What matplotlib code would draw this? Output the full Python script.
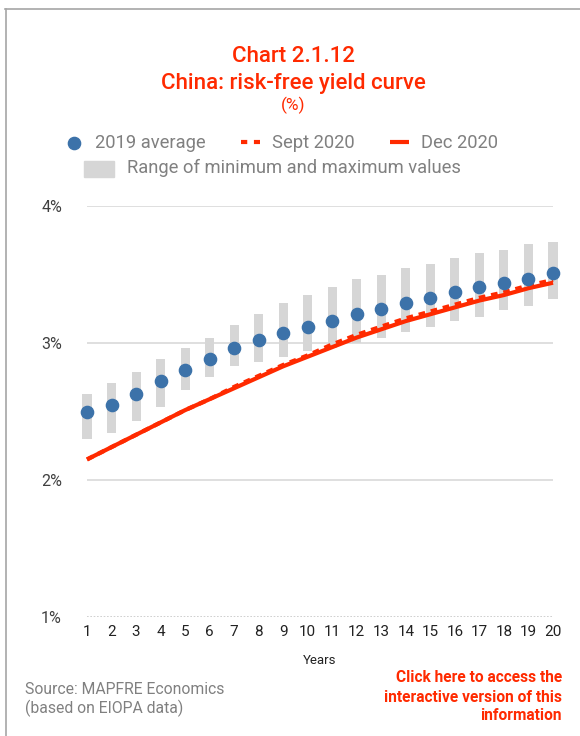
import matplotlib
matplotlib.use("Agg")
import matplotlib.pyplot as plt
from matplotlib.lines import Line2D
from matplotlib.patches import Rectangle

plt.rcParams['font.family'] = ['Roboto', 'DejaVu Sans']

years = list(range(1, 21))
avg_2019 = [2.50, 2.55, 2.63, 2.72, 2.80, 2.88, 2.96, 3.02, 3.07, 3.12,
            3.16, 3.21, 3.25, 3.29, 3.33, 3.37, 3.41, 3.44, 3.47, 3.51]
range_min = [2.30, 2.34, 2.43, 2.53, 2.66, 2.75, 2.83, 2.86, 2.90, 2.94,
             2.96, 3.00, 3.04, 3.08, 3.12, 3.16, 3.19, 3.24, 3.27, 3.32]
range_max = [2.63, 2.71, 2.79, 2.88, 2.96, 3.04, 3.13, 3.21, 3.29, 3.35,
             3.41, 3.47, 3.50, 3.55, 3.58, 3.62, 3.66, 3.68, 3.72, 3.74]
sept_2020 = [2.15, 2.24, 2.33, 2.42, 2.51, 2.59, 2.68, 2.76, 2.84, 2.91,
             2.99, 3.06, 3.12, 3.18, 3.23, 3.28, 3.33, 3.37, 3.42, 3.46]
dec_2020 = [2.15, 2.24, 2.33, 2.42, 2.51, 2.59, 2.67, 2.75, 2.83, 2.90,
            2.97, 3.04, 3.10, 3.16, 3.21, 3.26, 3.31, 3.35, 3.40, 3.44]
y_ticks = [1, 2, 3, 4]
y_tick_labels = ["1%", "2%", "3%", "4%"]

RED = "#ff2a00"
BLUE = "#3c72a9"
GREY_BAR = "#d6d6d6"
TXT_GREY = "#808080"

W, H = 580, 736
fig = plt.figure(figsize=(W / 100, H / 100), dpi=100)
ax = fig.add_axes([87 / W, 1 - 617 / H, (553 - 87) / W, (617 - 206) / H])

# min-max range bars
heights = [hi - lo for lo, hi in zip(range_min, range_max)]
ax.bar(years, heights, bottom=range_min, width=0.37, color=GREY_BAR,
       zorder=2, clip_on=False)

# yield curves
ax.plot(years, dec_2020, color=RED, lw=3.0, solid_capstyle='butt', zorder=3,
        clip_on=False)
ax.plot(years, sept_2020, color=RED, lw=3.0, dashes=(1.6, 1.4),
        dash_capstyle='butt', zorder=3, clip_on=False)

# 2019 average points
ax.plot(years, avg_2019, 'o', color=BLUE, ms=8.8, mec=BLUE, zorder=4,
        clip_on=False)

ax.set_xlim(1, 20)
ax.set_ylim(1, 4)
ax.set_xticks(years)
ax.set_xticklabels([str(y) for y in years])
ax.set_yticks(y_ticks)
ax.set_yticklabels(y_tick_labels)
ax.tick_params(axis='both', length=0, labelcolor="#404040")
ax.tick_params(axis='x', labelsize=11, pad=6)
ax.tick_params(axis='y', labelsize=11.5, pad=18)
for lbl in ax.get_xticklabels():
    lbl.set_color("#222222")

for s in ax.spines.values():
    s.set_visible(False)
for v in y_ticks[1:]:
    ax.axhline(v, color="#d9d9d9", lw=1.2, zorder=1)
ax.axhline(1, color="#c8c8c8", lw=1.2, ls=(0, (1, 1)), zorder=1)

ax.set_xlabel("Years", fontsize=9.5, color="#222222", labelpad=10.5)

# titles
fig.text(293 / W, 1 - 57 / H, "Chart 2.1.12", ha='center', va='center',
         color=RED, fontsize=16, fontweight='medium')
fig.text(293 / W, 1 - 84 / H, "China: risk-free yield curve", ha='center',
         va='center', color=RED, fontsize=16, fontweight='medium')
fig.text(293 / W, 1 - 105 / H, "(%)", ha='center', va='center',
         color=RED, fontsize=12.5)

# legend
leg_y = 1 - 143 / H
fs_leg = 13.2
fig.add_artist(Line2D([74 / W], [leg_y], marker='o', color=BLUE, ms=8.8,
                      transform=fig.transFigure))
fig.text(95 / W, leg_y, "2019 average", va='center', color=TXT_GREY,
         fontsize=fs_leg)
fig.add_artist(Line2D([241 / W, 260 / W], [leg_y + 1 / H] * 2, color=RED,
                      lw=3.0, dashes=(1.5, 1.6), dash_capstyle='butt',
                      transform=fig.transFigure))
fig.text(272 / W, leg_y, "Sept 2020", va='center', color=TXT_GREY,
         fontsize=fs_leg)
fig.add_artist(Line2D([390 / W, 409 / W], [leg_y + 1 / H] * 2, color=RED,
                      lw=3.0, solid_capstyle='butt',
                      transform=fig.transFigure))
fig.text(421 / W, leg_y, "Dec 2020", va='center', color=TXT_GREY,
         fontsize=fs_leg)
fig.add_artist(Rectangle((84 / W, 1 - 177 / H), 30 / W, 16.5 / H,
                         color=GREY_BAR, transform=fig.transFigure))
fig.text(127 / W, 1 - 168 / H, "Range of minimum and maximum values",
         va='center', color=TXT_GREY, fontsize=fs_leg)

# footer
fig.text(25 / W, 1 - 690 / H, "Source: MAPFRE Economics", va='center',
         color=TXT_GREY, fontsize=11.3)
fig.text(25 / W, 1 - 708 / H, "(based on EIOPA data)", va='center',
         color=TXT_GREY, fontsize=11.3)
for txt, ypx in [("Click here to access the", 678),
                 ("interactive version of this", 697),
                 ("information", 715)]:
    fig.text(562 / W, 1 - ypx / H, txt, ha='right', va='center', color=RED,
             fontsize=11.2, fontweight='bold')

# page frame (top and left edges)
fig.add_artist(Line2D([5 / W, 1], [1 - 8.5 / H] * 2, color="#a6a6a6", lw=1.2,
                      transform=fig.transFigure))
fig.add_artist(Line2D([5.5 / W] * 2, [0, 1 - 8.5 / H], color="#a6a6a6",
                      lw=1.2, transform=fig.transFigure))

fig.savefig("out.png", dpi=100)
